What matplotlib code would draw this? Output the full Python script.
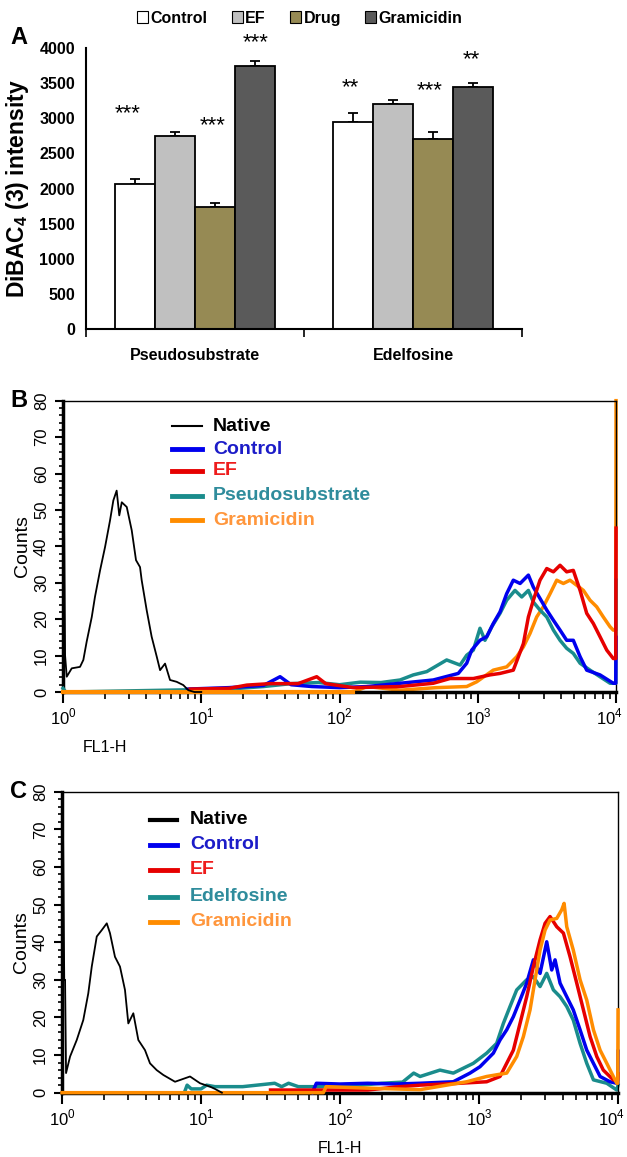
import matplotlib.pyplot as plt
import matplotlib.ticker as mticker
import matplotlib.transforms as mtransforms
from matplotlib.patches import Patch
from matplotlib.lines import Line2D
import numpy as np

plt.rcParams['font.family'] = ['Liberation Sans', 'DejaVu Sans']
plt.rcParams['mathtext.fontset'] = 'custom'
plt.rcParams['mathtext.rm'] = 'Liberation Sans'
plt.rcParams['mathtext.bf'] = 'Liberation Sans:bold'

# ---------------- panel A data ----------------
categories = ['Pseudosubstrate', 'Edelfosine']
groups = ['Control', 'EF', 'Drug', 'Gramicidin']
control_vals = [2070, 2950]
ef_vals = [2750, 3200]
drug_vals = [1740, 2710]
gram_vals = [3740, 3445]
control_err = [60, 120]
ef_err = [60, 65]
drug_err = [50, 100]
gram_err = [80, 50]
control_stars = ['***', '**']
ef_stars = ['', '']
drug_stars = ['***', '***']
gram_stars = ['***', '**']

# ---------------- panel B data (log10 FL1-H, counts) ----------------
b_native_x = [0.0, 0.008, 0.015, 0.027, 0.063, 0.123, 0.147, 0.171, 0.208, 0.231, 0.268, 0.304,
              0.340, 0.364, 0.388, 0.407, 0.425, 0.461, 0.497, 0.528, 0.557, 0.569, 0.605,
              0.641, 0.678, 0.702, 0.738, 0.774, 0.822, 0.870, 0.906, 0.95, 1.0]
b_native_y = [44, 44, 10, 4.2, 6.5, 6.9, 8.8, 13.8, 20.6, 26.1, 33.4, 39.8,
              47.1, 52.6, 55.3, 48.5, 52.1, 50.8, 44.4, 36.2, 34.3, 30.7, 22.5,
              15.2, 9.7, 6.0, 7.8, 3.3, 2.8, 1.9, 0.5, 0, 0]

b_control_x = [0.9, 1.2, 1.45, 1.57, 1.65, 1.8, 2.0, 2.2, 2.438, 2.678, 2.859, 2.920, 2.956, 3.016,
               3.065, 3.112, 3.161, 3.209, 3.257, 3.306, 3.366, 3.402, 3.450, 3.499, 3.547,
               3.595, 3.643, 3.691, 3.740, 3.788, 3.884, 3.980, 3.998, 4.0]
b_control_y = [0.8, 1.2, 1.8, 4.2, 2.0, 1.5, 1.2, 1.5, 2.4, 3.3, 5.1, 7.9, 11.5, 14.2,
               15.2, 18.8, 22.0, 27.0, 30.7, 29.8, 32.1, 28.8, 25.7, 22.5, 19.7,
               17.0, 14.2, 14.2, 9.7, 6.0, 4.7, 2.4, 2.4, 15]

b_ef_x = [0.92, 1.2, 1.33, 1.5, 1.7, 1.835, 1.9, 2.1, 2.438, 2.678, 2.799, 2.968, 3.089, 3.161,
          3.257, 3.330, 3.366, 3.402, 3.450, 3.499, 3.547, 3.595, 3.643, 3.691, 3.740,
          3.788, 3.836, 3.884, 3.933, 3.980, 3.998, 4.0]
b_ef_y = [0.8, 1.0, 1.9, 2.3, 2.3, 4.2, 2.3, 1.2, 1.5, 2.4, 3.7, 3.7, 4.7, 5.1,
          6.0, 13.3, 20.6, 25.2, 30.7, 33.9, 33.0, 34.8, 33.0, 33.4, 27.9,
          21.6, 18.8, 15.2, 11.5, 9.2, 9.2, 45]

b_pseudo_x = [0.0, 0.02, 1.2, 1.45, 1.65, 1.85, 2.0, 2.15, 2.3, 2.438, 2.534, 2.631, 2.775, 2.872,
              2.920, 2.968, 3.016, 3.052, 3.101, 3.161, 3.209, 3.269, 3.318, 3.366, 3.402,
              3.450, 3.499, 3.547, 3.595, 3.643, 3.691, 3.740, 3.812, 3.884, 3.957, 3.998, 4.0]
b_pseudo_y = [1.0, 0, 0.8, 1.5, 2.3, 2.6, 2.0, 2.7, 2.6, 3.3, 4.7, 5.6, 8.8, 7.4,
              10.1, 11.5, 17.5, 14.2, 17.9, 21.6, 25.2, 27.9, 26.1, 27.9, 24.7,
              22.5, 20.6, 17.0, 14.2, 12.0, 10.6, 7.9, 6.0, 4.2, 2.4, 2.4, 30.7]

b_gram_x = [0.0, 2.1, 2.2, 2.438, 2.7, 2.920, 2.992, 3.112, 3.209, 3.282, 3.330, 3.378, 3.426,
            3.474, 3.523, 3.571, 3.619, 3.667, 3.716, 3.764, 3.812, 3.860, 3.908, 3.957,
            3.980, 3.998, 4.0]
b_gram_y = [0, 0, 1.5, 0.5, 1.2, 1.5, 2.8, 6.0, 6.9, 9.7, 12.4, 16.1, 20.6,
            23.4, 27.0, 30.7, 29.8, 30.7, 29.3, 27.9, 25.2, 23.4, 20.6, 17.9,
            17.0, 17.0, 80]

# ---------------- panel C data (log10 FL1-H, counts) ----------------
c_native_x = [0.0, 0.008, 0.016, 0.022, 0.029, 0.058, 0.106, 0.153, 0.189, 0.214, 0.250, 0.286,
              0.322, 0.345, 0.381, 0.417, 0.453, 0.477, 0.513, 0.549, 0.597, 0.633, 0.681,
              0.729, 0.813, 0.921, 0.993, 1.065, 1.1, 1.15]
c_native_y = [67, 67, 30, 30, 5.2, 9.6, 14.0, 19.3, 26.4, 33.5, 41.5, 43.2,
              45.0, 42.4, 36.1, 33.5, 27.3, 18.4, 21.1, 14.0, 11.3, 7.8, 6.0,
              4.7, 2.9, 4.3, 2.5, 1.6, 1.0, 0]

c_control_x = [1.8, 1.83, 2.0, 2.2, 2.4, 2.576, 2.815, 2.935, 3.007, 3.055, 3.103, 3.151, 3.199,
               3.247, 3.295, 3.343, 3.391, 3.439, 3.487, 3.523, 3.547, 3.583, 3.631, 3.678,
               3.727, 3.775, 3.823, 3.871, 3.942, 3.991, 3.998, 4.0]
c_control_y = [0, 2.5, 2.3, 2.5, 2.3, 2.5, 2.9, 5.2, 6.9, 8.7, 10.5, 14.0, 16.7,
               20.2, 24.6, 29.1, 35.3, 31.7, 40.1, 32.6, 35.3, 29.1, 25.5, 22.0,
               16.7, 11.3, 7.8, 4.3, 2.9, 2.5, 2.5, 11]

c_ef_x = [1.5, 1.9, 2.2, 2.4, 2.576, 2.863, 3.055, 3.151, 3.199, 3.247, 3.295, 3.343, 3.391,
          3.439, 3.475, 3.511, 3.559, 3.607, 3.655, 3.703, 3.751, 3.799, 3.847, 3.894,
          3.966, 3.998, 4.0]
c_ef_y = [0.7, 0.7, 0.7, 1.5, 2.0, 2.5, 2.9, 4.3, 7.8, 11.3, 18.4, 25.5, 33.5,
          40.6, 45.0, 46.8, 44.1, 42.4, 36.1, 29.1, 22.0, 14.9, 9.6, 6.0,
          3.4, 3.4, 5]

c_edel_x = [0.88, 0.9, 0.93, 1.0, 1.04, 1.1, 1.3, 1.53, 1.58, 1.63, 1.7, 1.9, 2.1, 2.3, 2.45, 2.53,
            2.576, 2.719, 2.815, 2.959, 3.055, 3.127, 3.175, 3.223, 3.271, 3.343, 3.391,
            3.439, 3.487, 3.535, 3.583, 3.631, 3.678, 3.727, 3.775, 3.823, 3.919, 3.991, 4.0]
c_edel_y = [0, 2.0, 1.0, 1.0, 2.0, 1.6, 1.6, 2.5, 1.6, 2.5, 1.6, 1.6, 1.8, 2.5, 2.8, 5.2,
            4.3, 6.0, 5.2, 7.8, 10.5, 13.1, 18.4, 22.9, 27.3, 30.0, 30.8,
            28.2, 31.7, 27.3, 25.5, 22.9, 19.3, 13.1, 7.8, 3.4, 2.5, 0.7, 2]

c_gram_x = [0.0, 1.88, 1.9, 2.2, 2.576, 2.911, 3.055, 3.199, 3.271, 3.319, 3.367, 3.403, 3.439,
            3.475, 3.511, 3.559, 3.595, 3.612, 3.631, 3.678, 3.727, 3.775, 3.823, 3.871,
            3.919, 3.966, 3.991, 3.998, 4.0]
c_gram_y = [0, 0, 1.6, 1.2, 0.8, 2.9, 4.3, 5.2, 9.6, 14.9, 22.0, 30.0, 37.9,
            43.2, 45.9, 46.3, 48.6, 50.3, 44.1, 37.9, 30.0, 24.6, 16.7, 11.3,
            7.8, 4.3, 2.5, 2.5, 22]

# colours
bar_colors = ['#ffffff', '#c0c0c0', '#968a54', '#5a5a5a']
line_cols = {'Native': 'black', 'Control': '#0000ee', 'EF': '#e60000',
             'teal': '#1a8c8c', 'Gramicidin': '#ff8c00'}
text_cols = {'Native': 'black', 'Control': '#1c1cc8', 'EF': '#ee1c1c',
             'teal': '#2f8c9c', 'Gramicidin': '#ff963c'}

fig = plt.figure(figsize=(6.27, 11.57), dpi=100)

# ================= panel A =================
axA = fig.add_axes([0.1372, 0.7156, 0.6954, 0.2429])
x = np.arange(len(categories))
w = 0.184
all_vals = [control_vals, ef_vals, drug_vals, gram_vals]
all_errs = [control_err, ef_err, drug_err, gram_err]
all_stars = [control_stars, ef_stars, drug_stars, gram_stars]
star_y = [[3060, 3430], [0, 0], [2900, 3390], [4080, 3840]]
star_dx = [[-0.035, -0.012], [0, 0], [-0.01, -0.015], [0, -0.01]]
for i, (vals, errs) in enumerate(zip(all_vals, all_errs)):
    pos = x + (i - 1.5) * w
    axA.bar(pos, vals, w, color=bar_colors[i], edgecolor='black', linewidth=1.3,
            label=groups[i], zorder=2)
    axA.errorbar(pos, vals, yerr=[np.zeros(len(errs)), errs], fmt='none',
                 ecolor='black', elinewidth=1.3, capsize=3.5, capthick=1.3, zorder=1)
    for j in range(len(categories)):
        if all_stars[i][j]:
            axA.text(pos[j] + star_dx[i][j], star_y[i][j], all_stars[i][j], ha='center',
                     va='center', fontsize=16, clip_on=False)

axA.set_xlim(-0.5, 1.5)
axA.set_ylim(0, 4000)
axA.set_yticks(np.arange(0, 4001, 500))
axA.tick_params(axis='y', length=0, labelsize=11.5, pad=8)
for lab in axA.get_yticklabels():
    lab.set_fontweight('bold')
axA.set_xticks([-0.5, 0.5, 1.5])
axA.set_xticklabels([])
axA.set_xticks(x, minor=True)
axA.set_xticklabels(categories, minor=True, fontsize=11.5, fontweight='bold')
axA.tick_params(axis='x', which='major', length=6, width=1.2, direction='out')
axA.tick_params(axis='x', which='minor', length=0, pad=14)
axA.spines['top'].set_visible(False)
axA.spines['right'].set_visible(False)
axA.spines['left'].set_linewidth(1.5)
axA.spines['bottom'].set_linewidth(1.5)
axA.set_ylabel('DiBAC$_\\mathbf{4}$ (3) intensity', fontsize=16.5, fontweight='bold', labelpad=6)

handles = [Patch(facecolor=c, edgecolor='black', linewidth=0.8) for c in bar_colors]
fig.legend(handles, groups, loc='center', bbox_to_anchor=(0.478, 0.9844), ncol=4,
           frameon=False, handlelength=0.7, handleheight=0.7, handletextpad=0.15,
           columnspacing=1.5, prop={'weight': 'bold', 'size': 11.5})

fig.text(0.016, 0.968, 'A', fontsize=17, fontweight='bold', va='center')


# ================= panels B and C =================
def flow_axes(rect):
    ax = fig.add_axes(rect)
    ax.set_xscale('log')
    ax.set_xlim(1, 1e4)
    ax.set_ylim(0, 80)
    ax.set_xticks([1, 10, 100, 1000, 10000])
    ax.set_xticklabels(['$10^{0}$', '$10^{1}$', '$10^{2}$', '$10^{3}$', '$10^{4}$'], fontsize=12)
    ax.xaxis.set_minor_locator(mticker.LogLocator(base=10, subs=np.arange(2, 10)))
    ax.xaxis.set_minor_formatter(mticker.NullFormatter())
    ax.set_yticks(np.arange(0, 81, 10))
    ax.yaxis.set_minor_locator(mticker.MultipleLocator(2))
    ax.tick_params(axis='y', which='major', length=6, width=1.5, labelsize=12,
                   labelrotation=90, pad=4)
    ax.tick_params(axis='y', which='minor', length=3, width=1.2)
    ax.tick_params(axis='x', which='major', length=8, width=1.5, pad=3)
    ax.tick_params(axis='x', which='minor', length=5, width=1.2)
    for lab in ax.get_yticklabels():
        lab.set_va('center')
    last = ax.get_xticklabels()[-1]
    last.set_transform(last.get_transform() +
                       mtransforms.ScaledTranslation(-7 / 100, 0, fig.dpi_scale_trans))
    ax.spines['left'].set_linewidth(2.5)
    ax.spines['bottom'].set_linewidth(2.5)
    ax.spines['top'].set_linewidth(1.0)
    ax.spines['right'].set_linewidth(1.0)
    ax.set_ylabel('Counts', fontsize=14, labelpad=2)
    return ax


def draw_legend(ax, names, keys, x0, x1, xt, ys, native_lw):
    for name, key, yy in zip(names, keys, ys):
        lw = native_lw if key == 'Native' else 3.5
        ax.add_line(Line2D([x0, x1], [yy, yy], transform=ax.transAxes, color=line_cols[key],
                           lw=lw))
        ax.text(xt, yy, name, transform=ax.transAxes, color=text_cols[key], fontsize=14,
                fontweight='bold', va='center', ha='left')


axB = flow_axes([0.1005, 0.4019, 0.882, 0.2518])
axB.plot(10 ** np.array(b_gram_x), b_gram_y, color=line_cols['Gramicidin'], lw=2.5, clip_on=False, zorder=2)
axB.plot(10 ** np.array(b_pseudo_x), b_pseudo_y, color=line_cols['teal'], lw=2.5, clip_on=False, zorder=3)
axB.plot(10 ** np.array(b_control_x), b_control_y, color=line_cols['Control'], lw=2.5, clip_on=False, zorder=4)
axB.plot(10 ** np.array(b_ef_x), b_ef_y, color=line_cols['EF'], lw=2.5, clip_on=False, zorder=5)
axB.plot(10 ** np.array(b_gram_x[:2]), b_gram_y[:2], color=line_cols['Gramicidin'], lw=3,
         clip_on=False, zorder=6)
axB.plot(10 ** np.array(b_native_x), b_native_y, color='black', lw=1.3, clip_on=False, zorder=7)
draw_legend(axB, ['Native', 'Control', 'EF', 'Pseudosubstrate', 'Gramicidin'],
            ['Native', 'Control', 'EF', 'teal', 'Gramicidin'],
            0.197, 0.251, 0.271, [0.913, 0.834, 0.759, 0.673, 0.590], 1.5)
axB.set_xlabel('FL1-H', fontsize=11.5)
axB.xaxis.set_label_coords(0.075, -0.165)
fig.text(0.016, 1 - 401 / 1157, 'B', fontsize=17, fontweight='bold', va='center')

axC = flow_axes([0.0989, 0.0556, 0.8868, 0.2602])
axC.plot(10 ** np.array(c_gram_x), c_gram_y, color=line_cols['Gramicidin'], lw=2.5, clip_on=False, zorder=5)
axC.plot(10 ** np.array(c_edel_x), c_edel_y, color=line_cols['teal'], lw=2.5, clip_on=False, zorder=2)
axC.plot(10 ** np.array(c_control_x), c_control_y, color=line_cols['Control'], lw=2.5, clip_on=False, zorder=3)
axC.plot(10 ** np.array(c_ef_x), c_ef_y, color=line_cols['EF'], lw=2.5, clip_on=False, zorder=4)
axC.plot(10 ** np.array(c_native_x), c_native_y, color='black', lw=1.3, clip_on=False, zorder=6)
draw_legend(axC, ['Native', 'Control', 'EF', 'Edelfosine', 'Gramicidin'],
            ['Native', 'Control', 'EF', 'teal', 'Gramicidin'],
            0.158, 0.207, 0.230, [0.906, 0.823, 0.740, 0.651, 0.568], 3.0)
axC.set_xlabel('FL1-H', fontsize=11.5, labelpad=9)
fig.text(0.016, 1 - 792 / 1157, 'C', fontsize=17, fontweight='bold', va='center')

fig.savefig('out.png', dpi=100)
